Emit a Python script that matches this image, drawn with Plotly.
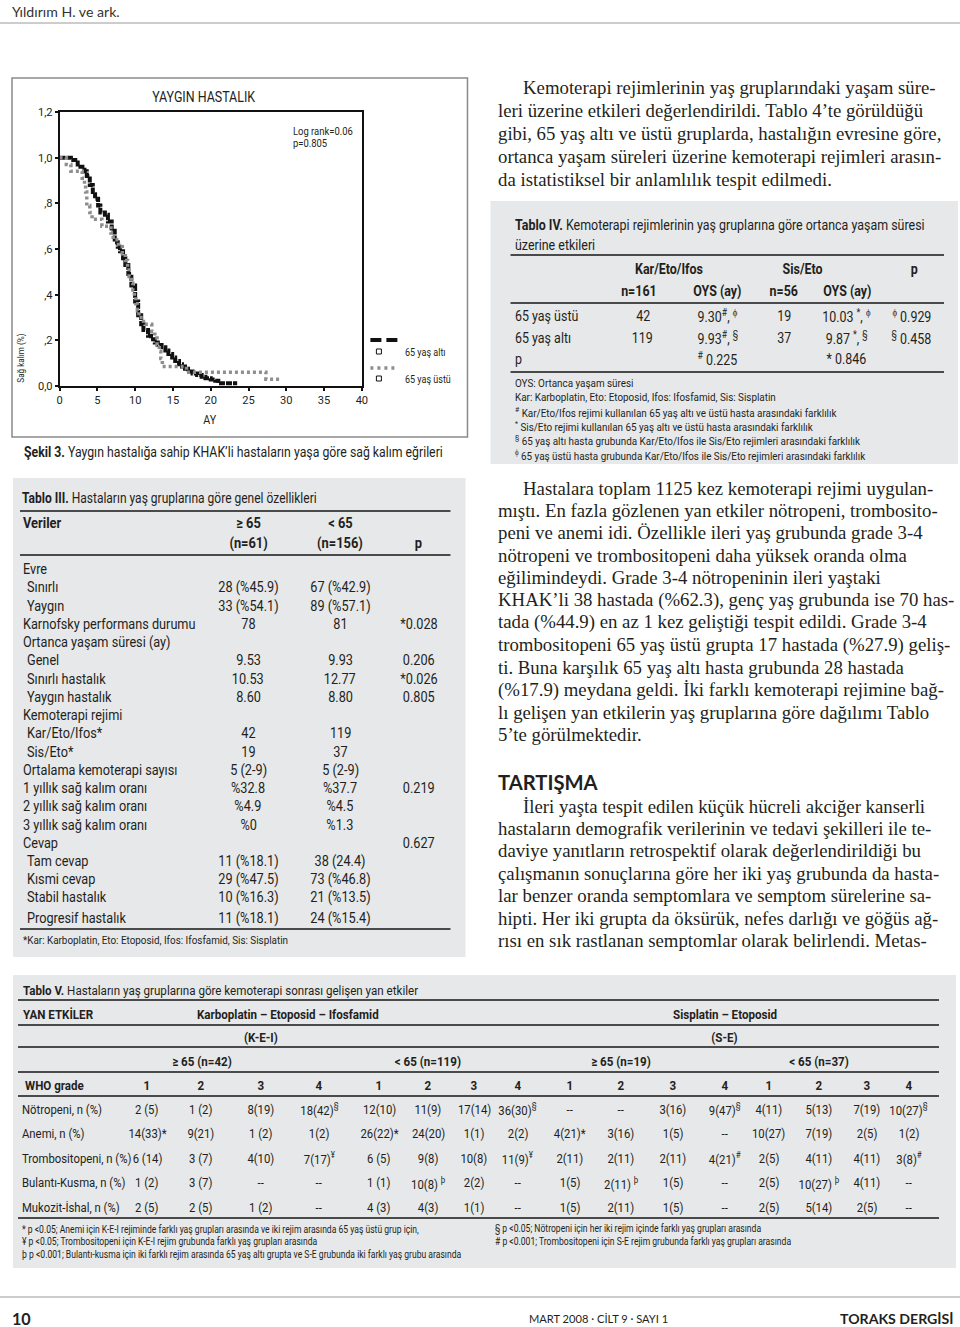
"""Journal page: Kaplan-Meier plot (Şekil 3) with Tablo III-V, rebuilt in plotly."""
import plotly.graph_objects as go

W, H = 960, 1327
# the captured page lands slightly inset and shrunk; measured once with a frame
X0, XSPAN = 3, 950
Y0, YSPAN = 6, 1314
FS = W / XSPAN

# --- Şekil 3: survival curves (months, survival fraction) ---
alti_months = [0, 1.5, 2.4, 3.3, 3.6, 4.0, 4.4, 4.7, 5.1, 5.4, 6.0, 6.4, 6.9, 7.3,
               7.7, 8.0, 8.4, 8.7, 9.1, 9.5, 10.0, 10.4, 10.8, 11.1, 11.7, 12.1,
               12.6, 13.0, 13.5, 14.0, 14.4, 14.9, 15.3, 15.8, 16.2, 16.6, 17.0,
               17.6, 18.2, 18.8, 19.3, 20.0, 20.6, 21.0, 23.5]
alti_surv = [1.0, 0.99, 0.96, 0.94, 0.92, 0.88, 0.85, 0.82, 0.79, 0.76, 0.75, 0.72,
             0.68, 0.63, 0.61, 0.59, 0.56, 0.53, 0.49, 0.44, 0.37, 0.31, 0.27, 0.245,
             0.22, 0.205, 0.19, 0.18, 0.17, 0.155, 0.14, 0.125, 0.11, 0.095, 0.085,
             0.075, 0.063, 0.055, 0.048, 0.04, 0.034, 0.028, 0.023, 0.012, 0.012]

ustu_months = [0, 0.9, 1.5, 3.0, 3.3, 3.45, 3.6, 4.0, 4.3, 5.6, 6.8, 7.1, 7.8, 8.3,
               8.7, 9.0, 9.2, 9.5, 9.7, 9.9, 10.1, 10.3, 10.5, 11.1, 12.2, 12.6,
               12.9, 13.2, 13.4, 13.6, 16.8, 27.3, 29.4]
ustu_surv = [1.0, 0.97, 0.94, 0.91, 0.88, 0.85, 0.79, 0.76, 0.73, 0.70, 0.67, 0.64,
             0.61, 0.58, 0.55, 0.52, 0.48, 0.45, 0.42, 0.39, 0.36, 0.33, 0.30, 0.27,
             0.24, 0.21, 0.18, 0.15, 0.12, 0.085, 0.06, 0.03, 0.03]

y_ticks = [0, 0.2, 0.4, 0.6, 0.8, 1.0, 1.2]
y_ticktext = ["0,0", ",2", ",4", ",6", ",8", "1,0", "1,2"]
x_ticks = [0, 5, 10, 15, 20, 25, 30, 35, 40]

# --- Tablo III ---
t3_labels = ["Evre", "Sınırlı", "Yaygın", "Karnofsky performans durumu",
             "Ortanca yaşam süresi (ay)", "Genel", "Sınırlı hastalık", "Yaygın hastalık",
             "Kemoterapi rejimi", "Kar/Eto/Ifos*", "Sis/Eto*", "Ortalama kemoterapi sayısı",
             "1 yıllık sağ kalım oranı", "2 yıllık sağ kalım oranı", "3 yıllık sağ kalım oranı",
             "Cevap", "Tam cevap", "Kısmi cevap", "Stabil hastalık", "Progresif hastalık"]
t3_ge65 = ["", "28 (%45.9)", "33 (%54.1)", "78", "", "9.53", "10.53", "8.60", "", "42",
           "19", "5 (2-9)", "%32.8", "%4.9", "%0", "", "11 (%18.1)", "29 (%47.5)",
           "10 (%16.3)", "11 (%18.1)"]
t3_lt65 = ["", "67 (%42.9)", "89 (%57.1)", "81", "", "9.93", "12.77", "8.80", "", "119",
           "37", "5 (2-9)", "%37.7", "%4.5", "%1.3", "", "38 (24.4)", "73 (%46.8)",
           "21 (%13.5)", "24 (%15.4)"]
t3_p = ["", "", "", "*0.028", "", "0.206", "*0.026", "0.805", "", "", "", "", "0.219",
        "", "", "0.627", "", "", "", ""]

# --- Tablo IV ---
t4_rows = ["65 yaş üstü", "65 yaş altı", "p"]
t4_ket_n = ["42", "119", ""]
t4_ket_oys = ["9.30<sup>#</sup>, <sup>ϕ</sup>", "9.93<sup>#</sup>, <sup>§</sup>", "<sup>#</sup> 0.225"]
t4_se_n = ["19", "37", ""]
t4_se_oys = ["10.03 <sup>*</sup>, <sup>ϕ</sup>", "9.87 <sup>*</sup>, <sup>§</sup>", "* 0.846"]
t4_p = ["<sup>ϕ</sup> 0.929", "<sup>§</sup> 0.458", ""]

# --- Tablo V ---
t5_rows = ["Nötropeni, n (%)", "Anemi, n (%)", "Trombositopeni, n (%)",
           "Bulantı-Kusma, n (%)", "Mukozit-İshal, n (%)"]
t5_values = [
    ["2 (5)", "1 (2)", "8(19)", "18(42)§", "12(10)", "11(9)", "17(14)", "36(30)§",
     "--", "--", "3(16)", "9(47)§", "4(11)", "5(13)", "7(19)", "10(27)§"],
    ["14(33)*", "9(21)", "1 (2)", "1(2)", "26(22)*", "24(20)", "1(1)", "2(2)",
     "4(21)*", "3(16)", "1(5)", "--", "10(27)", "7(19)", "2(5)", "1(2)"],
    ["6 (14)", "3 (7)", "4(10)", "7(17)¥", "6 (5)", "9(8)", "10(8)", "11(9)¥",
     "2(11)", "2(11)", "2(11)", "4(21)#", "2(5)", "4(11)", "4(11)", "3(8)#"],
    ["1 (2)", "3 (7)", "--", "--", "1 (1)", "10(8) þ", "2(2)", "--",
     "1(5)", "2(11) þ", "1(5)", "--", "2(5)", "10(27) þ", "4(11)", "--"],
    ["2 (5)", "2 (5)", "1 (2)", "--", "4 (3)", "4(3)", "1(1)", "--",
     "1(5)", "2(11)", "1(5)", "--", "2(5)", "5(14)", "2(5)", "--"],
]
t5_grades = ["1", "2", "3", "4"] * 4

para1 = ["Kemoterapi rejimlerinin yaş gruplarındaki yaşam süre-",
         "leri üzerine etkileri değerlendirildi. Tablo 4’te görüldüğü",
         "gibi, 65 yaş altı ve üstü gruplarda, hastalığın evresine göre,",
         "ortanca yaşam süreleri üzerine kemoterapi rejimleri arasın-",
         "da istatistiksel bir anlamlılık tespit edilmedi."]
para2 = ["Hastalara toplam 1125 kez kemoterapi rejimi uygulan-",
         "mıştı. En fazla gözlenen yan etkiler nötropeni, trombosito-",
         "peni ve anemi idi. Özellikle ileri yaş grubunda grade 3-4",
         "nötropeni ve trombositopeni daha yüksek oranda olma",
         "eğilimindeydi. Grade 3-4 nötropeninin ileri yaştaki",
         "KHAK’li 38 hastada (%62.3), genç yaş grubunda ise 70 has-",
         "tada (%44.9) en az 1 kez geliştiği tespit edildi. Grade 3-4",
         "trombositopeni 65 yaş üstü grupta 17 hastada (%27.9) geliş-",
         "ti. Buna karşılık 65 yaş altı hasta grubunda 28 hastada",
         "(%17.9) meydana geldi. İki farklı kemoterapi rejimine bağ-",
         "lı gelişen yan etkilerin yaş gruplarına göre dağılımı Tablo",
         "5’te görülmektedir."]
para3 = ["İleri yaşta tespit edilen küçük hücreli akciğer kanserli",
         "hastaların demografik verilerinin ve tedavi şekilleri ile te-",
         "daviye yanıtların retrospektif olarak değerlendirildiği bu",
         "çalışmanın sonuçlarına göre her iki yaş grubunda da hasta-",
         "lar benzer oranda semptomlara ve semptom sürelerine sa-",
         "hipti. Her iki grupta da öksürük, nefes darlığı ve göğüs ağ-",
         "rısı en sık rastlanan semptomlar olarak belirlendi. Metas-"]

NARROW = "Roboto"          # squeezed horizontally after drawing (see post script)
SERIF = "Liberation Serif, serif"
SANS = "Lato"
INK = "#231f20"
BOX = "#e7e8ea"
RULE = "#4a4a4a"

annotations = []
shapes = []


def px(x):
    return (x - X0) / XSPAN


def py(y):
    return 1 - (y - Y0) / YSPAN


def txt(x, y, s, size=14, anchor="left", font=NARROW, color=INK, angle=0):
    if not s:
        return
    annotations.append(dict(
        x=px(x), y=py(y), xref="paper", yref="paper", text=s, showarrow=False,
        xanchor=anchor, yanchor="middle", align=anchor, textangle=angle,
        font=dict(family=font, size=size * FS, color=color),
    ))


def hline(x0, x1, y, color=RULE, width=2, dash="solid"):
    shapes.append(dict(type="line", xref="paper", yref="paper", x0=px(x0), x1=px(x1),
                       y0=py(y), y1=py(y), line=dict(color=color, width=width, dash=dash)))


def rect(x0, y0, x1, y1, fill=None, line=None, width=1):
    shapes.append(dict(type="rect", xref="paper", yref="paper", x0=px(x0), x1=px(x1),
                       y0=py(y1), y1=py(y0), layer="below",
                       fillcolor=fill or "rgba(0,0,0,0)",
                       line=dict(color=line or "rgba(0,0,0,0)", width=width)))


def sup_marks(s):
    # trailing footnote marks become superscripts
    for m in ("§", "¥", "#", "þ"):
        if s.endswith(m):
            return s[:-1] + "<sup>" + m + "</sup>"
    return s


fig = go.Figure()
fig.add_trace(go.Scatter(x=alti_months, y=alti_surv, mode="lines", line_shape="hv",
                         line=dict(color="#111111", width=4, dash="6px,1px"),
                         name="65 yaş altı", showlegend=False))
fig.add_trace(go.Scatter(x=ustu_months, y=ustu_surv, mode="lines", line_shape="hv",
                         line=dict(color="#8e8e8e", width=3.5, dash="3px,3px"),
                         name="65 yaş üstü", showlegend=False))

# page header / footer
txt(10, 11, "Yıldırım H. ve ark.", 14, font=SANS, color="#333333")
hline(0, W, 23, color="#9a9a9a", width=1)
hline(0, W, 1297, color="#9a9a9a", width=1)
txt(10, 1318, "<b>10</b>", 16, font=SANS)
txt(598, 1318, "MART 2008 · CİLT 9 · SAYI 1", 11, anchor="center", font=SANS)
txt(955, 1318, "<b>TORAKS DERGİSİ</b>", 14, anchor="right", font=SANS)

# figure frame and labels
rect(12, 78, 467, 437, line="#8a8a8a", width=1.5)
txt(204, 97, "YAYGIN HASTALIK", 14.5, anchor="center")
txt(291, 132, "Log rank=0.06", 11)
txt(291, 143, "p=0.805", 11)
txt(21, 358, "Sağ kalım (%)", 9.5, anchor="center", angle=-90)
txt(210, 420, "AY", 12.5, anchor="center")
hline(370, 397, 340, color="#111111", width=4, dash="11px,5px")
rect(376, 349, 381, 354, line="#111111", width=1)
txt(403, 352, "65 yaş altı", 10.5)
hline(370, 398, 368, color="#8e8e8e", width=3.5, dash="3px,4px")
rect(376, 376, 381, 381, line="#111111", width=1)
txt(403, 380, "65 yaş üstü", 10.5)
txt(22, 453, "<b>Şekil 3.</b> Yaygın hastalığa sahip KHAK’li hastaların yaşa göre sağ kalım eğrileri", 14.3)

# body text, right column
for i, line in enumerate(para1):
    txt(520 if i == 0 else 495, 87 + i * 23.2, line, 18.6, font=SERIF)
for i, line in enumerate(para2):
    txt(520 if i == 0 else 495, 488 + i * 22.4, line, 18.6, font=SERIF)
txt(495, 782, "<b>TARTIŞMA</b>", 20, font=SANS)
for i, line in enumerate(para3):
    txt(520 if i == 0 else 495, 806 + i * 22.4, line, 18.6, font=SERIF)

# Tablo IV
rect(490, 201, 957, 464, fill=BOX)
txt(512, 225, "<b>Tablo IV.</b> Kemoterapi rejimlerinin yaş gruplarına göre ortanca yaşam süresi", 14.5)
txt(512, 245, "üzerine etkileri", 14.5)
hline(510, 943, 255)
txt(668, 269, "<b>Kar/Eto/Ifos</b>", 14.5, anchor="center")
txt(802, 269, "<b>Sis/Eto</b>", 14.5, anchor="center")
txt(913, 269, "<b>p</b>", 14.5, anchor="center")
txt(638, 291, "<b>n=161</b>", 14.5, anchor="center")
txt(717, 291, "<b>OYS (ay)</b>", 14.5, anchor="center")
txt(783, 291, "<b>n=56</b>", 14.5, anchor="center")
txt(847, 291, "<b>OYS (ay)</b>", 14.5, anchor="center")
hline(510, 943, 303)
for i, lab in enumerate(t4_rows):
    y = 316 + i * 21.5
    txt(512, y, lab, 14.5)
    txt(642, y, t4_ket_n[i], 14.5, anchor="center")
    txt(717, y, t4_ket_oys[i], 14.5, anchor="center")
    txt(783, y, t4_se_n[i], 14.5, anchor="center")
    txt(846, y, t4_se_oys[i], 14.5, anchor="center")
    txt(911, y, t4_p[i], 14.5, anchor="center")
hline(510, 943, 372)
t4_notes = ["OYS: Ortanca yaşam süresi",
            "Kar: Karboplatin, Eto: Etoposid, Ifos: Ifosfamid, Sis: Sisplatin",
            "<sup>#</sup> Kar/Eto/Ifos rejimi kullanılan 65 yaş altı ve üstü hasta arasındaki farklılık",
            "<sup>*</sup> Sis/Eto rejimi kullanılan 65 yaş altı ve üstü hasta arasındaki farklılık",
            "<sup>§</sup> 65 yaş altı hasta grubunda Kar/Eto/Ifos ile Sis/Eto rejimleri arasındaki farklılık",
            "<sup>ϕ</sup> 65 yaş üstü hasta grubunda Kar/Eto/Ifos ile Sis/Eto rejimleri arasındaki farklılık"]
for i, note in enumerate(t4_notes):
    txt(512, 383 + i * 14.3, note, 11.5)

# Tablo III
rect(13, 478, 465, 957, fill=BOX)
txt(20, 498, "<b>Tablo III.</b> Hastaların yaş gruplarına göre genel özellikleri", 14)
hline(20, 450, 511)
txt(21, 523, "<b>Veriler</b>", 15)
txt(248, 523, "<b>≥ 65</b>", 15, anchor="center")
txt(340, 523, "<b>< 65</b>", 15, anchor="center")
txt(248, 543, "<b>(n=61)</b>", 15, anchor="center")
txt(340, 543, "<b>(n=156)</b>", 15, anchor="center")
txt(418, 543, "<b>p</b>", 15, anchor="center")
hline(20, 450, 555)
t3_sub = {1, 2, 5, 6, 7, 9, 10, 16, 17, 18, 19}
for i, lab in enumerate(t3_labels):
    y = 569 + i * 18.25 + (2 if i == 19 else 0)
    txt(25 if i in t3_sub else 21, y, lab, 14.8)
    txt(248, y, t3_ge65[i], 14.8, anchor="center")
    txt(340, y, t3_lt65[i], 14.8, anchor="center")
    txt(419, y, t3_p[i], 14.8, anchor="center")
hline(20, 450, 929)
txt(21, 940, "*Kar: Karboplatin, Eto: Etoposid, Ifos: Ifosfamid, Sis: Sisplatin", 11.5)

# Tablo V
rect(13, 975, 955, 1268, fill=BOX)
txt(21, 990, "<b>Tablo V.</b> Hastaların yaş gruplarına göre kemoterapi sonrası gelişen yan etkiler", 13.5)
t5_cols = [147, 201, 261, 319, 379, 428, 474, 517, 569, 620, 672, 724, 768, 818, 866, 908]
for yy in (1000, 1025, 1047, 1072, 1096, 1218):
    hline(18, 938, yy, width=1.8)
txt(21, 1014, "<b>YAN ETKİLER</b>", 13.5)
txt(288, 1014, "<b>Karboplatin – Etoposid – Ifosfamid</b>", 13.5, anchor="center")
txt(724, 1014, "<b>Sisplatin – Etoposid</b>", 13.5, anchor="center")
txt(261, 1037, "<b>(K-E-I)</b>", 13.5, anchor="center")
txt(724, 1037, "<b>(S-E)</b>", 13.5, anchor="center")
txt(202, 1061, "<b>≥ 65 (n=42)</b>", 13.5, anchor="center")
txt(428, 1061, "<b>< 65 (n=119)</b>", 13.5, anchor="center")
txt(620, 1061, "<b>≥ 65 (n=19)</b>", 13.5, anchor="center")
txt(818, 1061, "<b>< 65 (n=37)</b>", 13.5, anchor="center")
txt(23, 1085, "<b>WHO grade</b>", 13.5)
for c, g in zip(t5_cols, t5_grades):
    txt(c, 1085, "<b>" + g + "</b>", 13.5, anchor="center")
for r, lab in enumerate(t5_rows):
    y = 1109 + r * 24.5
    txt(20, y, lab, 13.2)
    for c, v in zip(t5_cols, t5_values[r]):
        txt(c, y, sup_marks(v), 13.2, anchor="center")
t5_notes_left = [
    "* p <0.05; Anemi için K-E-I rejiminde farklı yaş grupları arasında ve iki rejim arasında 65 yaş üstü grup için,",
    "¥ p <0.05; Trombositopeni için K-E-I rejim grubunda farklı yaş grupları arasında",
    "þ p <0.001; Bulantı-kusma için iki farklı rejim arasında 65 yaş altı grupta ve S-E grubunda iki farklı yaş grubu arasında"]
t5_notes_right = [
    "§ p <0.05; Nötropeni için her iki rejim içinde farklı yaş grupları arasında",
    "# p <0.001; Trombositopeni için S-E rejim grubunda farklı yaş grupları arasında"]
for i, note in enumerate(t5_notes_left):
    txt(20, 1229 + i * 12.8, note, 10)
for i, note in enumerate(t5_notes_right):
    txt(492, 1229 + i * 12.8, note, 10)

axis_font = dict(family=NARROW, size=11 * FS, color=INK)
fig.update_layout(
    width=W, height=H, margin=dict(l=0, r=0, t=0, b=0),
    paper_bgcolor="white", plot_bgcolor="white", showlegend=False,
    annotations=annotations, shapes=shapes,
    xaxis=dict(domain=[px(59.5), px(361.5)], range=[0, 40], tickvals=x_ticks,
               showgrid=False, zeroline=False, showline=True, linecolor="#111111",
               linewidth=1.5, mirror=True, ticks="outside", ticklen=3, tickwidth=2,
               tickcolor="#111111", tickfont=axis_font),
    yaxis=dict(domain=[py(386), py(112)], range=[0, 1.2], tickvals=y_ticks,
               ticktext=y_ticktext, showgrid=False, zeroline=False, showline=True,
               linecolor="#111111", linewidth=1.5, mirror=True, ticks="outside",
               ticklen=3, tickwidth=2, tickcolor="#111111", tickfont=axis_font),
)

# the page typeface is a condensed grotesque; no condensed face is installed,
# so the Roboto texts are narrowed in place. Also drop the body margin.
post = """
document.body.style.margin = '0';
document.body.style.overflow = 'hidden';
var gd = document.getElementById('{plot_id}');
gd.querySelectorAll('text.annotation-text').forEach(function (t) {
    if ((t.style.fontFamily || '').indexOf('Roboto') < 0) { return; }
    var a = t.getAttribute('text-anchor');
    var o = a === 'start' ? 'left' : (a === 'end' ? 'right' : 'center');
    t.style.transformBox = 'fill-box';
    t.style.transformOrigin = o + ' center';
    t.style.transform = 'scaleX(0.85)';
});
"""
fig.write_html("out.html", post_script=post, config={"displayModeBar": False})
